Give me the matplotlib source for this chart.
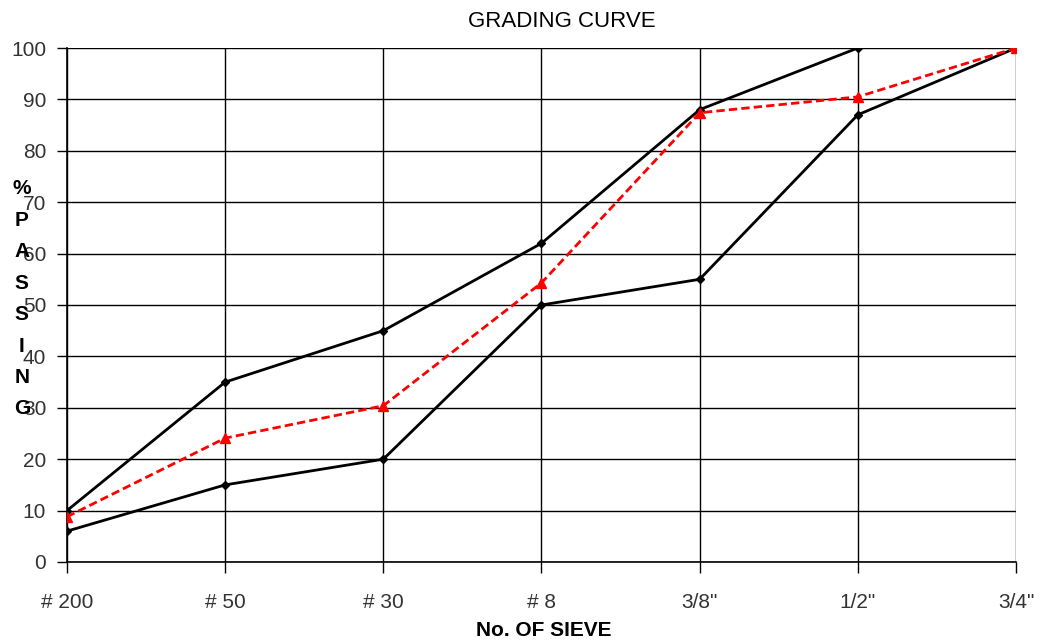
import numpy as np
import matplotlib.pyplot as plt

plt.rcParams['font.family'] = ['Liberation Sans', 'DejaVu Sans']

sieves = ['# 200', '# 50', '# 30', '# 8', '3/8"', '1/2"', '3/4"']
upper_limit = [10, 35, 45, 62, 88, 100]
lower_limit = [6, 15, 20, 50, 55, 87, 100]
sample = [8.8, 24.1, 30.4, 54.3, 87.4, 90.5, 100]
y_ticks = list(range(0, 101, 10))


def main():
    fig = plt.figure(figsize=(10.4, 6.4), dpi=100)
    ax = fig.add_axes([0.0644, 0.1219, 0.9125, 0.8031])

    x = np.arange(len(sieves))
    ax.plot(x[:len(upper_limit)], upper_limit, color='black', lw=2,
            marker='D', ms=4.5, zorder=3)
    ax.plot(x, lower_limit, color='black', lw=2, marker='D', ms=4.5, zorder=3)
    ax.plot(x, sample, color='#ff0000', lw=2, ls=(0, (3, 1.5)),
            marker='^', ms=7, zorder=4)

    ax.set_xlim(0, len(sieves) - 1)
    ax.set_ylim(0, 100)
    ax.set_xticks(x)
    ax.set_xticklabels(sieves)
    ax.set_yticks(y_ticks)
    ax.grid(True, color='black', lw=1)
    ax.set_axisbelow(True)
    for s in ['top', 'right']:
        ax.spines[s].set_visible(False)
    ax.spines['left'].set_linewidth(1.2)
    ax.spines['bottom'].set_linewidth(1.2)
    ax.tick_params(axis='x', direction='out', length=8, width=1, pad=14,
                   labelsize=15, labelcolor='#333333')
    ax.tick_params(axis='y', direction='out', length=7, width=1, pad=8,
                   labelsize=15, labelcolor='#333333')

    fig.text(0.54, 0.966, 'GRADING CURVE', ha='center', va='center',
             fontsize=16)
    fig.text(0.523, 0.015, 'No. OF SIEVE', ha='center', va='center',
             fontsize=15, fontweight='bold')
    # vertical stacked letters, overlapping the tick labels like the original
    fig.text(0.021, 0.533, '\n'.join('%PASSING'), ha='center', va='center',
             fontsize=15, fontweight='bold', linespacing=1.83)

    fig.savefig('out.png')


if __name__ == '__main__':
    main()
